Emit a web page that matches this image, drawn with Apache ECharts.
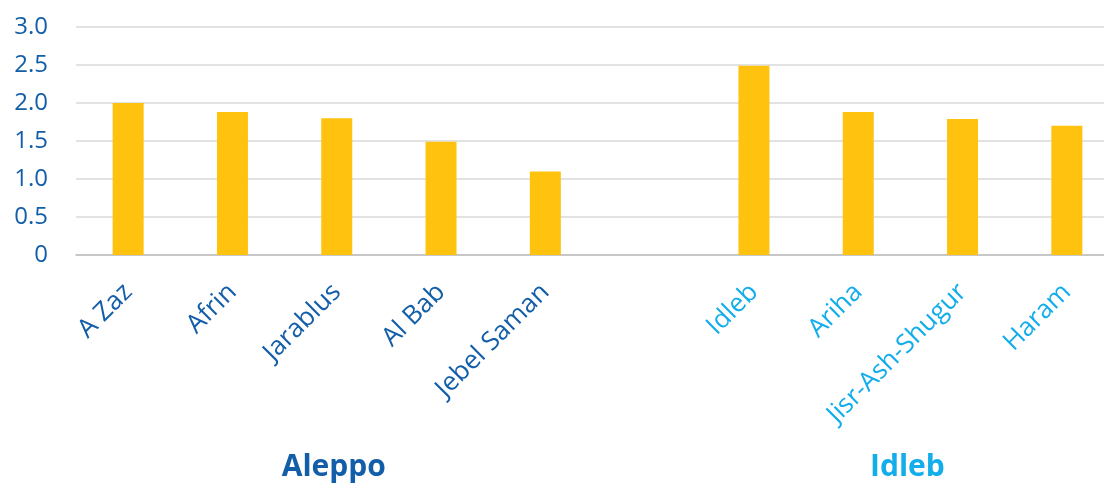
<!DOCTYPE html>
<html>
<head>
<meta charset="utf-8">
<style>
  html, body { margin: 0; padding: 0; background: #fff; }
  #chart { width: 1104px; height: 483px; }
</style>
<script src="https://cdn.jsdelivr.net/npm/echarts@6/dist/echarts.min.js"></script>
</head>
<body>
<div id="chart"></div>
<script>
// districts, with an empty slot between the two governorates
const districts = ["A Zaz", "Afrin", "Jarablus", "Al Bab", "Jebel Saman", "", "Idleb", "Ariha", "Jisr-Ash-Shugur", "Haram"];
const values = [2.0, 1.88, 1.8, 1.49, 1.1, null, 2.49, 1.88, 1.79, 1.7];
const groups = [
  { name: "Aleppo", from: 0, to: 4, color: "#135ea8" },
  { name: "Idleb", from: 6, to: 9, color: "#12adea" }
];
const yTicks = ["0", "0.5", "1.0", "1.5", "2.0", "2.5", "3.0"];

const labelColor = (idx) => (idx >= groups[1].from ? groups[1].color : groups[0].color);

const chart = echarts.init(document.getElementById("chart"));

const option = {
  animation: false,
  grid: { left: 76, right: -15, top: 27, bottom: 228, outerBoundsMode: "none", containLabel: false },
  xAxis: {
    type: "category",
    data: districts,
    axisTick: { show: false },
    axisLine: { lineStyle: { color: "#bfbfbf", width: 1.5 } },
    axisLabel: {
      interval: 0,
      rotate: 45,
      margin: 33,
      verticalAlign: "middle",
      fontFamily: "Open Sans",
      fontSize: 26,
      color: (value, idx) => labelColor(idx)
    }
  },
  yAxis: {
    type: "value",
    min: 0,
    max: 3,
    interval: 0.5,
    axisLine: { show: false },
    axisTick: { show: false },
    splitLine: { lineStyle: { color: "#d9d9d9", width: 1.5 } },
    axisLabel: {
      margin: 28,
      fontFamily: "Open Sans",
      fontSize: 24,
      color: "#135ea8",
      formatter: (v) => yTicks[Math.round(v / 0.5)]
    }
  },
  series: [
    {
      type: "bar",
      data: values,
      barWidth: 31,
      itemStyle: { color: "#ffc20e" }
    }
  ]
};

chart.setOption(option);

// group captions centred under their districts
const graphic = groups.map((g) => {
  const x0 = chart.convertToPixel({ xAxisIndex: 0 }, g.from);
  const x1 = chart.convertToPixel({ xAxisIndex: 0 }, g.to);
  return {
    type: "text",
    x: (x0 + x1) / 2 - 3,
    y: 467,
    style: {
      text: g.name,
      fill: g.color,
      font: "bold 30px 'Open Sans'",
      textAlign: "center",
      textVerticalAlign: "middle"
    }
  };
});
chart.setOption({ graphic: graphic });
</script>
</body>
</html>
